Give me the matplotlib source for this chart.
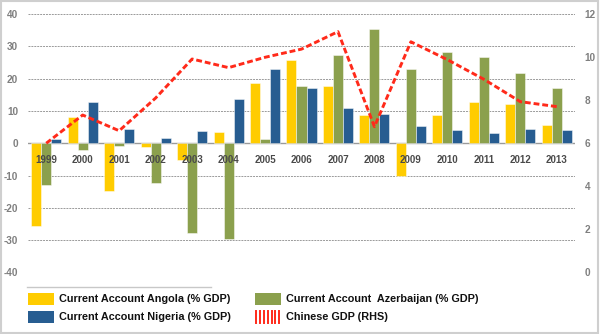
import matplotlib
matplotlib.use("Agg")
import matplotlib.pyplot as plt
import numpy as np
from matplotlib.patches import Rectangle
from matplotlib.lines import Line2D

years = ["1999", "2000", "2001", "2002", "2003", "2004", "2005", "2006",
         "2007", "2008", "2009", "2010", "2011", "2012", "2013"]
angola = [-25.5, 8.2, -14.7, -1.2, -5.1, 3.6, 18.5, 25.7, 17.6, 8.8, -10.1, 8.6, 12.8, 12.0, 5.8]
azerbaijan = [-13.0, -2.1, -0.9, -12.2, -27.9, -29.6, 1.3, 17.8, 27.4, 35.5, 23.1, 28.3, 26.6, 21.8, 17.1]
nigeria = [1.2, 12.7, 4.4, 1.7, 3.8, 13.8, 22.9, 17.2, 11.0, 9.2, 5.4, 4.0, 3.2, 4.5, 4.0]
china_gdp = [6.0, 7.31, 6.58, 8.1, 9.91, 9.51, 9.99, 10.37, 11.18, 6.77, 10.71, 9.88, 8.97, 7.93, 7.70]

left_ticks = [-40, -30, -20, -10, 0, 10, 20, 30, 40]
right_ticks = [0, 2, 4, 6, 8, 10, 12]

c_ang = "#FFCC00"
c_aze = "#8BA04D"
c_nig = "#275D91"
c_red = "#FF2A1A"

W, H = 600, 334
fig = plt.figure(figsize=(6.0, 3.34), dpi=100)
fig.patch.set_facecolor("white")

def fx(px):
    return px / W

def fy(py):
    return 1 - py / H

ax = fig.add_axes([fx(28), fy(272.5), fx(575) - fx(28), fy(14) - fy(272.5)])
ax2 = ax.twinx()

x = np.arange(len(years))
bw = 0.275
ax.bar(x - bw, angola, bw, color=c_ang, edgecolor=(1, 1, 1, 0.55), linewidth=0.6, zorder=3)
ax.bar(x, azerbaijan, bw, color=c_aze, edgecolor=(1, 1, 1, 0.55), linewidth=0.6, zorder=3)
ax.bar(x + bw, nigeria, bw, color=c_nig, edgecolor=(1, 1, 1, 0.55), linewidth=0.6, zorder=3)

ax.set_xlim(-0.5, len(years) - 0.5)
ax.set_ylim(-40, 40)
ax2.set_ylim(0, 12)

for t in left_ticks:
    if t != 0:
        ax.axhline(t, color="#9a9a9a", lw=0.7, ls=(0, (2.0, 1.0)), zorder=1)
ax.axhline(0, color="#9a9a9a", lw=1.0, zorder=2)

ax2.plot(x, china_gdp, color=c_red, lw=2.1, ls=(0, (2.0, 1.0)), zorder=5)

for a in (ax, ax2):
    for s in a.spines.values():
        s.set_visible(False)

ax.set_yticks(left_ticks)
ax.set_yticklabels([str(t) for t in left_ticks])
ax.tick_params(axis="y", length=0, pad=7, labelsize=7.2, labelcolor="#7f7f7f")
for lab in ax.get_yticklabels():
    lab.set_fontweight("bold")
    lab.set_fontfamily("Liberation Sans")

ax2.set_yticks(right_ticks)
ax2.set_yticklabels([str(t) for t in right_ticks])
ax2.tick_params(axis="y", length=0, pad=7, labelsize=7.2, labelcolor="#7f7f7f")
for lab in ax2.get_yticklabels():
    lab.set_fontweight("bold")
    lab.set_fontfamily("Liberation Sans")

ax.set_xticks([])
for i, yr in enumerate(years):
    ax.annotate(yr, xy=(i, 0), xytext=(0, -12), textcoords="offset points",
                ha="center", va="center", fontsize=7, fontweight="bold",
                color="#4a4a4a", family="Liberation Sans", zorder=6)

ax2.patch.set_visible(False)

# separator line above the legend
fig.add_artist(Line2D([fx(27), fx(211)], [fy(287), fy(287)], color="#c8c8c8", lw=1.0))

# legend
legend_font = dict(fontsize=7.8, fontweight="bold", color="#111111", family="Liberation Sans",
                   va="center", ha="left")
entries = [
    (27.7, 299, c_ang, "Current Account Angola (% GDP)", False),
    (27.7, 317, c_nig, "Current Account Nigeria (% GDP)", False),
    (255, 299, c_aze, "Current Account  Azerbaijan (% GDP)", False),
    (255, 317, c_red, "Chinese GDP (RHS)", True),
]
pw, ph = 26.3, 11.5
for px0, pyc, col, label, striped in entries:
    if not striped:
        fig.add_artist(Rectangle((fx(px0), fy(pyc + ph / 2)), fx(pw), ph / H,
                                 transform=fig.transFigure, facecolor=col, edgecolor="none"))
    else:
        for k in range(7):
            xs = px0 + 1.2 + k * 3.85
            fig.add_artist(Line2D([fx(xs), fx(xs)], [fy(pyc + ph / 2), fy(pyc - ph / 2)],
                                  color=col, lw=1.4))
    fig.text(fx(px0 + 31.5), fy(pyc), label, **legend_font)

# outer border
fig.add_artist(Rectangle((0.002, 0.003), 0.995, 0.993, transform=fig.transFigure,
                         facecolor="none", edgecolor="#cfcfcf", lw=1.5))

fig.savefig("out.png", dpi=100, facecolor="white")
